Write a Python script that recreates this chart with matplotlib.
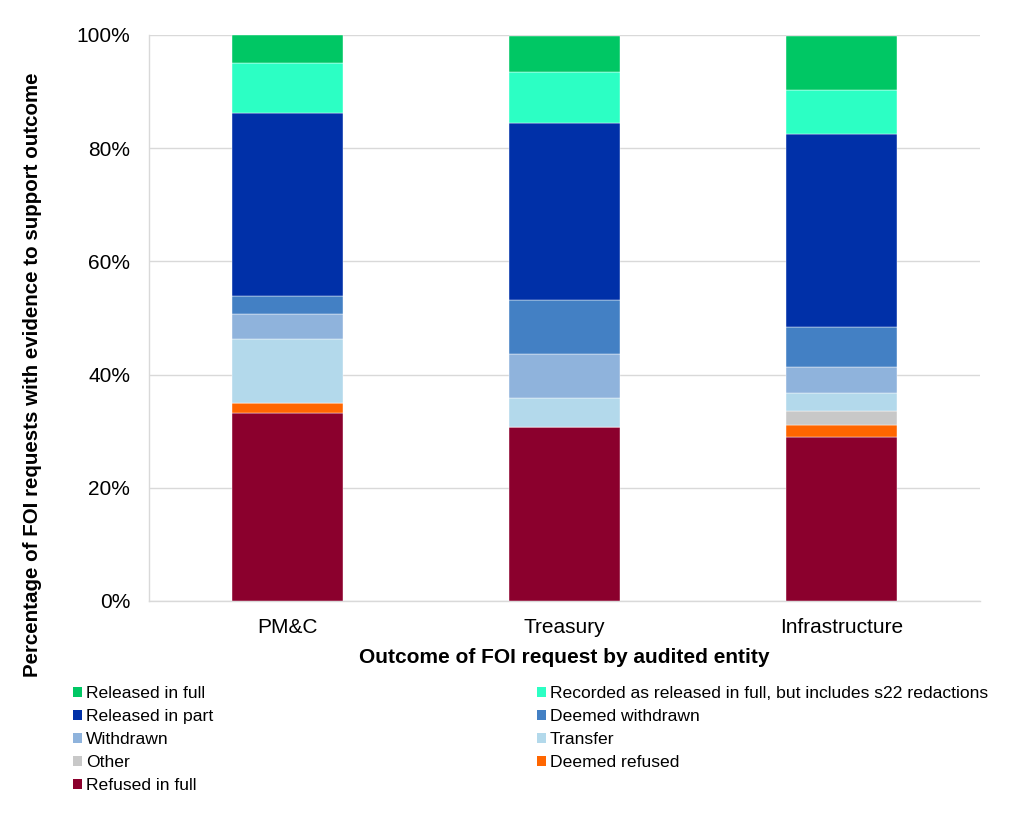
import matplotlib
matplotlib.use("Agg")
import matplotlib.pyplot as plt
from matplotlib.patches import Patch
from matplotlib.ticker import PercentFormatter, MultipleLocator

plt.rcParams['font.family'] = ['Liberation Sans', 'DejaVu Sans']

entities = ["PM&C", "Treasury", "Infrastructure"]

# Stack order from bottom to top
categories = ["Refused in full", "Deemed refused", "Other", "Transfer", "Withdrawn",
              "Deemed withdrawn", "Released in part",
              "Recorded as released in full, but includes s22 redactions", "Released in full"]

refused_in_full = [33.2, 30.7, 29.0]
deemed_refused = [1.8, 0.0, 2.1]
other = [0.0, 0.0, 2.5]
transfer = [11.3, 5.2, 3.2]
withdrawn = [4.4, 7.7, 4.5]
deemed_withdrawn = [3.1, 9.5, 7.1]
released_in_part = [32.5, 31.4, 34.1]
recorded_s22 = [8.7, 9.0, 7.7]
released_in_full = [5.0, 6.4, 9.7]

series = [refused_in_full, deemed_refused, other, transfer, withdrawn,
          deemed_withdrawn, released_in_part, recorded_s22, released_in_full]

colors = ["#8B002D", "#FF6600", "#C8C8C8", "#B3D9EB", "#8FB3DC",
          "#4380C4", "#0030A8", "#2CFFC4", "#00C764"]

fig = plt.figure(figsize=(10.19, 8.18), dpi=100)
ax = fig.add_axes([149/1019, 1 - 601/818, (980-149)/1019, (601-35)/818])

x = list(range(len(entities)))
bottom = [0.0] * len(entities)
for vals, col, name in zip(series, colors, categories):
    ax.bar(x, vals, width=0.4, bottom=bottom, color=col, edgecolor='white',
           linewidth=0.3, label=name, zorder=3)
    bottom = [b + v for b, v in zip(bottom, vals)]

ax.set_xlim(-0.5, 2.5)
ax.set_ylim(0, 100)
ax.yaxis.set_major_locator(MultipleLocator(20))
ax.yaxis.set_major_formatter(PercentFormatter(decimals=0))
ax.set_xticks(x)
ax.set_xticklabels(entities, fontsize=15)
ax.tick_params(axis='y', labelsize=15, length=0, pad=13.5)
ax.tick_params(axis='x', length=0, pad=12.5)
ax.grid(axis='y', color='#D9D9D9', linewidth=1, zorder=0)
for s in ['top', 'right']:
    ax.spines[s].set_visible(False)
for s in ['left', 'bottom']:
    ax.spines[s].set_color('#D9D9D9')
    ax.spines[s].set_linewidth(1)

ax.set_xlabel("Outcome of FOI request by audited entity", fontsize=15,
              fontweight='bold', labelpad=8)
fig.text(33/1019, 1 - 375/818, "Percentage of FOI requests with evidence to support outcome",
         rotation=90, fontsize=14.8, fontweight='bold', ha='center', va='center')

handles = {name: Patch(facecolor=col, edgecolor='none') for name, col in zip(categories, colors)}
col1 = ["Released in full", "Released in part", "Withdrawn", "Other", "Refused in full"]
col2 = ["Recorded as released in full, but includes s22 redactions", "Deemed withdrawn",
        "Transfer", "Deemed refused"]

common = dict(frameon=False, fontsize=12.6, handlelength=0.5, handleheight=0.5,
              handletextpad=0.25, labelspacing=0.46, borderaxespad=0, borderpad=0)
leg1 = fig.legend([handles[n] for n in col1], col1, loc='upper left',
                  bbox_to_anchor=(73/1019, 1 - 686/818), **common)
leg2 = fig.legend([handles[n] for n in col2], col2, loc='upper left',
                  bbox_to_anchor=(537/1019, 1 - 686/818), **common)

fig.savefig("out.png", dpi=100)
